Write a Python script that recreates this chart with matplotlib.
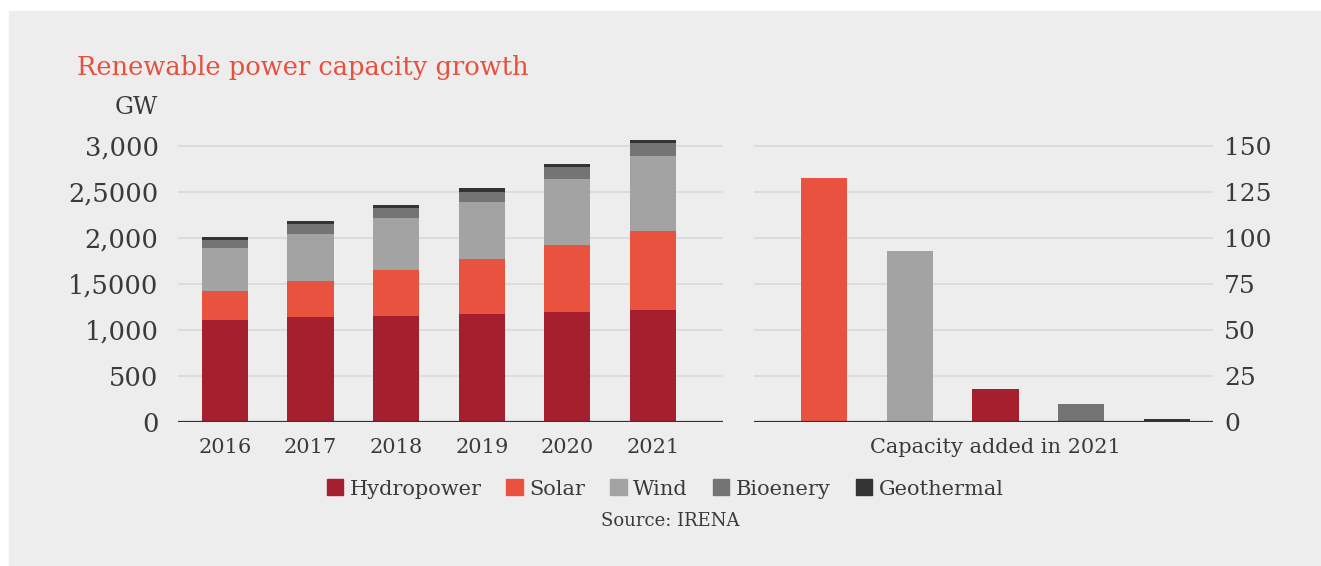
import matplotlib
matplotlib.use("Agg")
import matplotlib.pyplot as plt
from matplotlib.patches import Rectangle, Patch
import numpy as np

# data
years = ["2016", "2017", "2018", "2019", "2020", "2021"]
hydro = [1103, 1136, 1147, 1169, 1190, 1212]
solar = [315, 391, 499, 596, 727, 857]
wind = [467, 510, 564, 619, 716, 814]
bio = [87, 108, 109, 108, 130, 141]
geo = [32, 33, 32, 44, 33, 32]

added_names = ["Solar", "Wind", "Hydropower", "Bioenery", "Geothermal"]
added_2021 = [132.3, 92.6, 17.7, 9.6, 1.5]

left_ticks = [0, 500, 1000, 1500, 2000, 2500, 3000]
left_labels = ["0", "500", "1,000", "1,5000", "2,000", "2,5000", "3,000"]
right_ticks = [0, 25, 50, 75, 100, 125, 150]

colors = {"Hydropower": "#a51f2e", "Solar": "#ea5240", "Wind": "#a3a3a3",
          "Bioenery": "#747474", "Geothermal": "#333333"}
bg = "#ededed"
txt = "#3a3a3a"
grid = "#d9d9d9"

plt.rcParams["font.family"] = ["DejaVu Serif"]

W, H = 1321, 566
fig = plt.figure(figsize=(W / 100, H / 100), dpi=100)
fig.patch.set_facecolor("white")
fig.patches.append(Rectangle((9 / W, 0), 1 - 9 / W, (H - 11) / H,
                             transform=fig.transFigure, color=bg, zorder=-10))

def fx(px):
    return px / W

def fy(py):
    return (H - py) / H

bottom = fy(421.7)
top = fy(131.7)
ax1 = fig.add_axes([fx(178), bottom, fx(723) - fx(178), top - bottom])
ax2 = fig.add_axes([fx(754), bottom, fx(1213) - fx(754), top - bottom])

x = np.arange(len(years))
base = np.zeros(len(years))
for name, vals in [("Hydropower", hydro), ("Solar", solar), ("Wind", wind),
                   ("Bioenery", bio), ("Geothermal", geo)]:
    ax1.bar(x, vals, 0.54, bottom=base, color=colors[name], zorder=3)
    base = base + np.array(vals)

x2 = np.arange(len(added_names))
ax2.bar(x2, added_2021, 0.54, color=[colors[n] for n in added_names], zorder=3)

for ax in (ax1, ax2):
    ax.set_facecolor(bg)
    for s in ax.spines.values():
        s.set_visible(False)
    ax.axhline(0, color="#333333", lw=1.6, zorder=4)
    ax.grid(axis="y", color=grid, lw=1.2, zorder=0)
    ax.tick_params(length=0, colors=txt)

ax1.set_xlim(-0.549, 5.818)
ax1.set_ylim(0, 3150)
ax1.set_yticks(left_ticks)
ax1.set_yticklabels(left_labels, fontsize=18.5)
ax1.set_xticks(x)
ax1.set_xticklabels(years, fontsize=15)
ax1.tick_params(axis="y", pad=14)
ax1.tick_params(axis="x", pad=12)

ax2.set_xlim(-0.816, 4.536)
ax2.set_ylim(0, 157.5)
ax2.set_yticks(right_ticks)
ax2.yaxis.tick_right()
ax2.tick_params(axis="y", labelsize=18, pad=8)
ax2.set_xticks([2])
ax2.set_xticklabels(["Capacity added in 2021"], fontsize=15)
ax2.tick_params(axis="x", pad=12)

fig.text(fx(77), fy(75), "Renewable power capacity growth", color="#e8503e",
         fontsize=18.5, va="baseline", ha="left")
fig.text(fx(158), fy(114), "GW", color=txt, fontsize=17, va="baseline", ha="right")

handles = [Patch(color=colors[n], label=n) for n in
           ["Hydropower", "Solar", "Wind", "Bioenery", "Geothermal"]]
leg = fig.legend(handles=handles, loc="center", bbox_to_anchor=(fx(665), fy(489)),
                 ncol=5, frameon=False, fontsize=15, handlelength=0.8,
                 handleheight=0.8, handletextpad=0.3, columnspacing=1.2)
for t in leg.get_texts():
    t.set_color(txt)
fig.text(fx(670), fy(521), "Source: IRENA", color=txt, fontsize=13,
         ha="center", va="center")

fig.savefig("out.png", dpi=100, facecolor=fig.get_facecolor())
